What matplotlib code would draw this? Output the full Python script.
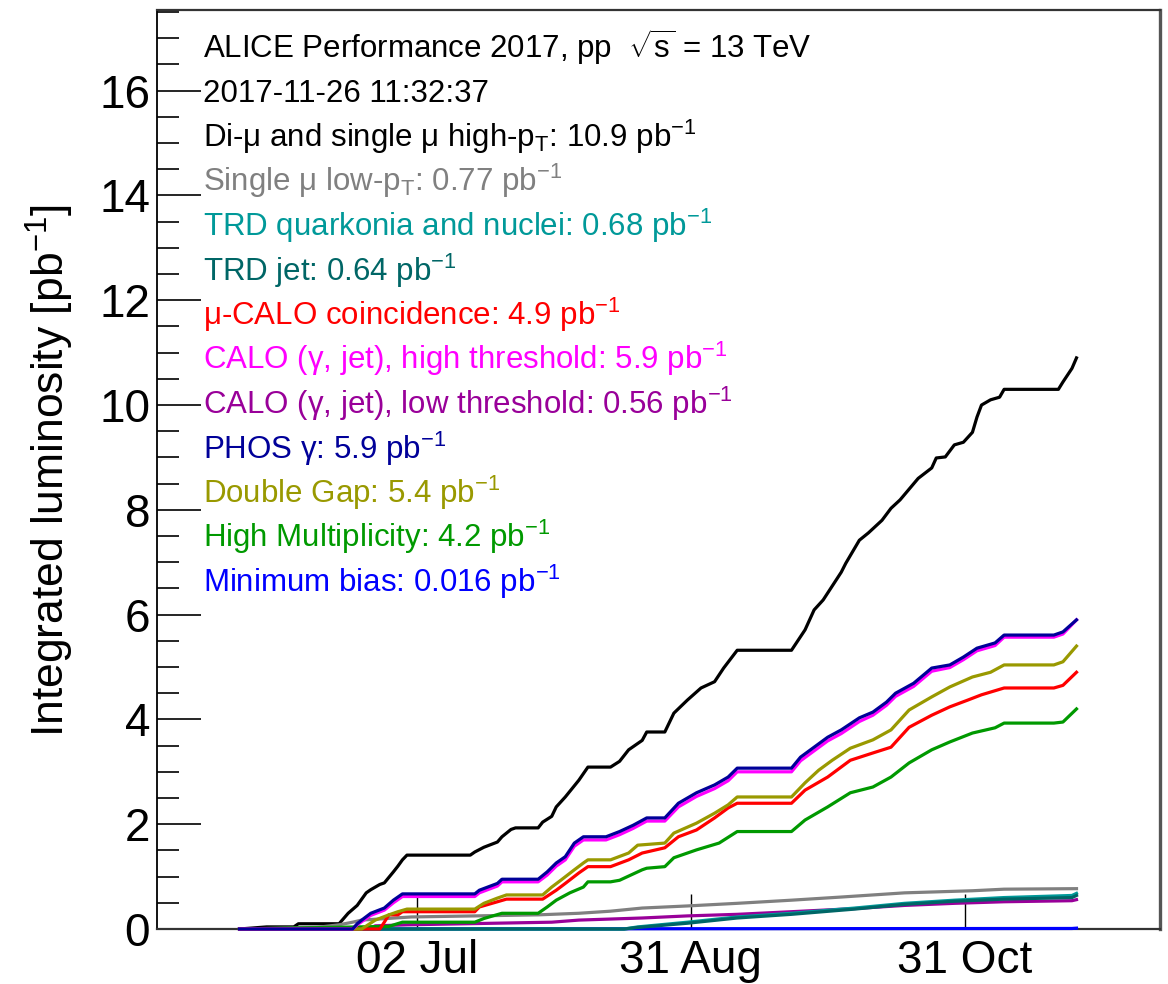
import matplotlib
matplotlib.use('Agg')
import matplotlib.pyplot as plt
from matplotlib.ticker import MultipleLocator
import pandas as pd

plt.rcParams['font.family'] = ['Liberation Sans', 'DejaVu Sans']
plt.rcParams['mathtext.fontset'] = 'custom'
plt.rcParams['mathtext.rm'] = 'Liberation Sans'
plt.rcParams['mathtext.it'] = 'Liberation Sans:italic'
plt.rcParams['mathtext.bf'] = 'Liberation Sans:bold'

# ************************************************************************
# Integrated luminosity per trigger class, 2017 pp run (pb^-1)
# ************************************************************************
dimu_dates = ['05-24', '05-30', '06-05', '06-06', '06-15', '06-16', '06-17', '06-19',
              '06-21', '06-22', '06-24', '06-25', '06-27', '06-28', '06-29', '06-30',
              '07-14', '07-15', '07-17', '07-20', '07-21', '07-23', '07-24', '07-29',
              '07-30', '08-01', '08-02', '08-04', '08-07', '08-09', '08-14', '08-16',
              '08-18', '08-21', '08-22', '08-26', '08-28', '08-31', '09-03', '09-06',
              '09-08', '09-11', '09-23', '09-26', '09-28', '09-30', '10-04', '10-05',
              '10-08', '10-10', '10-13', '10-15', '10-17', '10-21', '10-24', '10-25',
              '10-27', '10-29', '10-31', '11-02', '11-03', '11-04', '11-06', '11-08',
              '11-09', '11-21', '11-22', '11-24', '11-25']
dimu_lumi = [0.0, 0.04, 0.04, 0.1, 0.1, 0.2, 0.3, 0.45,
             0.69, 0.75, 0.85, 0.88, 1.09, 1.2, 1.32, 1.41,
             1.41, 1.47, 1.56, 1.66, 1.76, 1.9, 1.93, 1.93,
             2.04, 2.15, 2.33, 2.52, 2.84, 3.09, 3.09, 3.2,
             3.42, 3.6, 3.76, 3.76, 4.12, 4.37, 4.6, 4.72,
             4.98, 5.32, 5.32, 5.71, 6.09, 6.28, 6.81, 6.98,
             7.42, 7.56, 7.8, 8.03, 8.19, 8.6, 8.8, 8.99,
             9.01, 9.24, 9.29, 9.48, 9.77, 10.0, 10.1, 10.15,
             10.3, 10.3, 10.44, 10.7, 10.9]

mulow_dates = ['05-24', '06-10', '06-15', '06-18', '06-20', '07-01', '07-29', '08-07',
               '08-14', '08-21', '08-31', '09-11', '09-23', '10-04', '10-18', '11-02',
               '11-09', '11-25']
mulow_lumi = [0.0, 0.03, 0.08, 0.13, 0.17, 0.23, 0.27, 0.3,
              0.34, 0.4, 0.44, 0.49, 0.55, 0.61, 0.69, 0.73,
              0.76, 0.77]

trd_dates = ['05-24', '08-17', '08-20', '08-31', '09-11', '09-23', '10-07', '10-18',
             '10-29', '11-09', '11-24', '11-25']
trdq_lumi = [0.0, 0.0, 0.04, 0.13, 0.23, 0.3, 0.4, 0.49,
             0.55, 0.6, 0.64, 0.68]
trdjet_lumi = [0.0, 0.0, 0.03, 0.11, 0.21, 0.28, 0.38, 0.47,
               0.53, 0.57, 0.6, 0.64]

mucalo_dates = ['05-24', '06-24', '06-25', '06-26', '06-28', '06-29', '07-15', '07-16',
                '07-20', '07-22', '07-30', '08-02', '08-04', '08-07', '08-09', '08-14',
                '08-18', '08-21', '08-26', '08-29', '09-02', '09-06', '09-09', '09-11',
                '09-23', '09-26', '10-01', '10-06', '10-11', '10-15', '10-19', '10-24',
                '10-28', '11-01', '11-04', '11-09', '11-20', '11-22', '11-25']
mucalo_lumi = [0.0, 0.0, 0.13, 0.27, 0.27, 0.33, 0.33, 0.42,
               0.52, 0.57, 0.57, 0.74, 0.87, 1.07, 1.19, 1.19,
               1.32, 1.45, 1.55, 1.76, 1.89, 2.12, 2.31, 2.4,
               2.4, 2.65, 2.9, 3.22, 3.36, 3.47, 3.85, 4.08,
               4.24, 4.37, 4.47, 4.6, 4.6, 4.65, 4.9]

calo_dates = ['05-24', '06-18', '06-19', '06-20', '06-22', '06-25', '06-27', '06-29',
              '07-15', '07-16', '07-20', '07-21', '07-29', '07-31', '08-02', '08-04',
              '08-06', '08-08', '08-13', '08-16', '08-19', '08-22', '08-26', '08-29',
              '09-02', '09-06', '09-09', '09-11', '09-23', '09-25', '09-28', '10-01',
              '10-04', '10-08', '10-11', '10-14', '10-16', '10-20', '10-24', '10-28',
              '10-31', '11-03', '11-07', '11-09', '11-20', '11-22', '11-25']
calohigh_lumi = [0.0, 0.0, 0.08, 0.14, 0.26, 0.36, 0.5, 0.62,
                 0.62, 0.69, 0.82, 0.9, 0.9, 1.03, 1.2, 1.32,
                 1.58, 1.7, 1.7, 1.8, 1.92, 2.06, 2.06, 2.33,
                 2.53, 2.68, 2.83, 3.0, 3.0, 3.21, 3.4, 3.59,
                 3.73, 3.96, 4.08, 4.27, 4.44, 4.63, 4.92, 4.99,
                 5.14, 5.31, 5.41, 5.57, 5.57, 5.63, 5.9]
phos_lumi = [0.0, 0.0, 0.1, 0.17, 0.3, 0.4, 0.55, 0.67,
             0.67, 0.74, 0.87, 0.95, 0.95, 1.09, 1.26, 1.38,
             1.64, 1.76, 1.76, 1.86, 1.98, 2.12, 2.12, 2.4,
             2.6, 2.75, 2.9, 3.07, 3.07, 3.28, 3.47, 3.66,
             3.8, 4.03, 4.14, 4.33, 4.5, 4.69, 4.98, 5.04,
             5.19, 5.36, 5.46, 5.61, 5.61, 5.67, 5.9]

calolow_dates = ['05-24', '06-22', '06-23', '06-30', '08-01', '08-07', '08-21', '08-31',
                 '09-11', '09-23', '10-07', '10-18', '10-29', '11-09', '11-24', '11-25']
calolow_lumi = [0.0, 0.02, 0.06, 0.08, 0.13, 0.17, 0.21, 0.25,
                0.28, 0.33, 0.39, 0.45, 0.49, 0.52, 0.54, 0.56]

dg_dates = ['05-24', '06-20', '06-23', '06-26', '06-28', '06-30', '07-15', '07-17',
            '07-20', '07-22', '07-30', '08-01', '08-03', '08-06', '08-08', '08-09',
            '08-14', '08-18', '08-20', '08-26', '08-28', '09-02', '09-06', '09-09',
            '09-11', '09-23', '09-26', '09-29', '10-02', '10-06', '10-11', '10-15',
            '10-19', '10-24', '10-28', '11-02', '11-06', '11-09', '11-20', '11-22',
            '11-25']
dg_lumi = [0.0, 0.0, 0.17, 0.27, 0.33, 0.38, 0.38, 0.49,
           0.59, 0.65, 0.65, 0.8, 0.93, 1.13, 1.26, 1.32,
           1.32, 1.45, 1.6, 1.64, 1.83, 2.02, 2.21, 2.37,
           2.52, 2.52, 2.79, 3.03, 3.22, 3.45, 3.61, 3.8,
           4.18, 4.43, 4.62, 4.81, 4.9, 5.04, 5.04, 5.1,
           5.4]

hm_dates = ['05-24', '06-26', '06-29', '07-15', '07-17', '07-21', '07-29', '07-31',
            '08-02', '08-05', '08-08', '08-09', '08-14', '08-16', '08-21', '08-22',
            '08-26', '08-28', '09-02', '09-07', '09-11', '09-23', '09-26', '10-01',
            '10-06', '10-11', '10-15', '10-19', '10-24', '10-28', '11-02', '11-07',
            '11-09', '11-20', '11-22', '11-25']
hm_lumi = [0.0, 0.05, 0.13, 0.13, 0.2, 0.3, 0.3, 0.42,
           0.55, 0.69, 0.8, 0.9, 0.9, 0.93, 1.13, 1.16,
           1.19, 1.36, 1.51, 1.64, 1.86, 1.86, 2.08, 2.33,
           2.6, 2.71, 2.9, 3.17, 3.42, 3.57, 3.74, 3.84,
           3.93, 3.93, 3.95, 4.2]

mb_dates = ['05-24', '11-24', '11-25']
mb_lumi = [0.0, 0.01, 0.016]

# ************************************************************************
# Plot
# ************************************************************************
# (label, colour, dates, values); minimum bias first so the other lines sit on top
series = [
    ('Minimum bias', '#0000ff', mb_dates, mb_lumi),
    ('Di-μ and single μ high-p$_{\\mathrm{T}}$', '#000000', dimu_dates, dimu_lumi),
    ('Single μ low-p$_{\\mathrm{T}}$', '#808080', mulow_dates, mulow_lumi),
    ('CALO (γ, jet), low threshold', '#990099', calolow_dates, calolow_lumi),
    ('TRD quarkonia and nuclei', '#009999', trd_dates, trdq_lumi),
    ('TRD jet', '#006666', trd_dates, trdjet_lumi),
    ('High Multiplicity', '#009900', hm_dates, hm_lumi),
    ('μ-CALO coincidence', '#ff0000', mucalo_dates, mucalo_lumi),
    ('Double Gap', '#999900', dg_dates, dg_lumi),
    ('CALO (γ, jet), high threshold', '#ff00ff', calo_dates, calohigh_lumi),
    ('PHOS γ', '#000099', calo_dates, phos_lumi),
]
legend_order = [1, 2, 4, 5, 7, 9, 3, 10, 8, 6, 0]

fig = plt.figure(figsize=(11.68, 9.84), dpi=100)
ax = fig.add_axes([157 / 1168, 1 - 929 / 984, 1003 / 1168, 919 / 984])

# lines drawn unclipped and above the frame so the ones at zero stay visible
for label, color, dates, vals in series:
    t = pd.to_datetime(['2017-' + d for d in dates])
    ax.plot(t, vals, color=color, lw=2.3, clip_on=False, zorder=3)

ax.set_xlim(pd.Timestamp('2017-05-05 18:00'), pd.Timestamp('2017-12-13 11:00'))
ax.set_ylim(0, 17.54)

tick_times = pd.to_datetime(['2017-07-02 06:00', '2017-08-31 18:00', '2017-10-31 06:00'])
ax.set_xticks(tick_times)
ax.set_xticklabels([t.strftime('%d %b') for t in tick_times])
ax.yaxis.set_major_locator(MultipleLocator(2))
ax.yaxis.set_minor_locator(MultipleLocator(0.5))
ax.tick_params(axis='x', direction='in', length=25, width=1, pad=7, labelsize=33)
ax.tick_params(axis='y', which='major', direction='in', length=32, width=1.2, pad=5, labelsize=33)
ax.tick_params(axis='y', which='minor', direction='in', length=16, width=1.2)

ax.spines['left'].set_linewidth(1.3)
ax.spines['top'].set_color('#333333')
ax.spines['top'].set_linewidth(1.6)
ax.spines['bottom'].set_color('#333333')
ax.spines['bottom'].set_linewidth(1.6)
ax.spines['right'].set_color('#555555')
ax.spines['right'].set_linewidth(2.4)

fig.text(50 / 1168, 1 - 470 / 984, 'Integrated luminosity [pb$^{-1}$]',
         rotation=90, ha='center', va='center', fontsize=32)

# header and per-class totals
x0 = 203 / 1168
fs = 22.5
fig.text(x0, 1 - 58 / 984, 'ALICE Performance 2017, pp  $\\sqrt{\\mathrm{s}}$ = 13 TeV',
         fontsize=fs, va='baseline')
fig.text(x0, 1 - 102.5 / 984, '2017-11-26 11:32:37', fontsize=fs, va='baseline')
for i, k in enumerate(legend_order):
    label, color, dates, vals = series[k]
    y = 58 + 44.5 * (i + 2)
    fig.text(x0, 1 - y / 984, f'{label}: {vals[-1]} pb$^{{-1}}$', color=color,
             fontsize=fs, va='baseline')

plt.savefig('out.png', dpi=100)
